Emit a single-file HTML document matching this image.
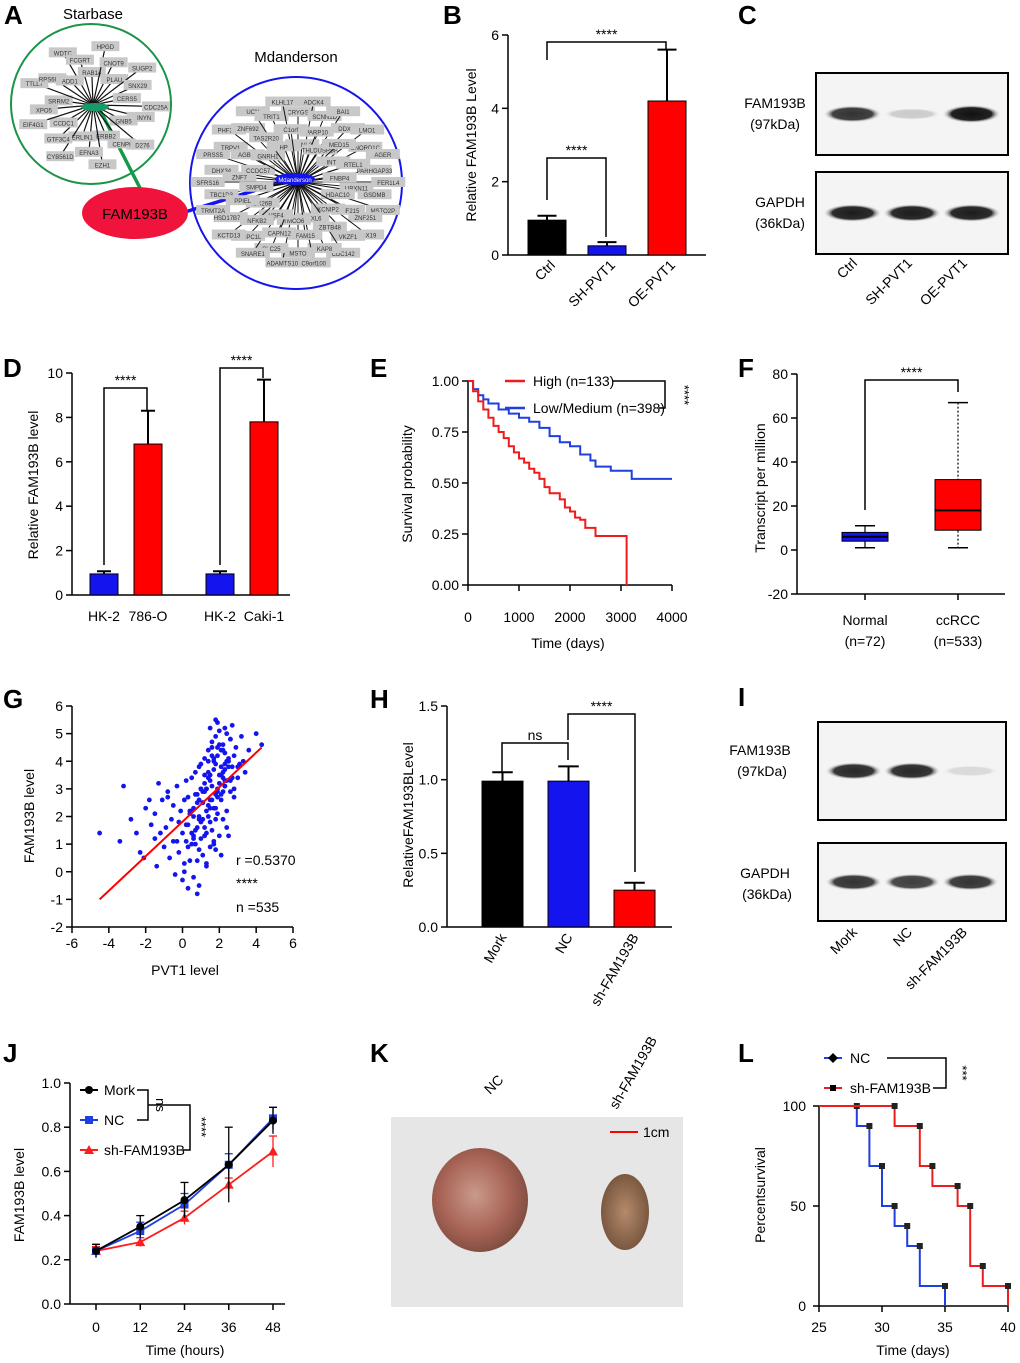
<!DOCTYPE html>
<html><head><meta charset="utf-8"><style>
body{margin:0;background:#fff}
svg{display:block;font-family:"Liberation Sans",Arial,sans-serif}
</style></head><body>
<svg id="fig" width="1020" height="1363" viewBox="0 0 1020 1363" xmlns="http://www.w3.org/2000/svg">
<defs>
<radialGradient id="t1" cx="45%" cy="45%" r="60%"><stop offset="0" stop-color="#c99a8c"/><stop offset="0.6" stop-color="#a86456"/><stop offset="1" stop-color="#7a4a3e"/></radialGradient>
<radialGradient id="t2" cx="50%" cy="50%" r="60%"><stop offset="0" stop-color="#b58a6c"/><stop offset="1" stop-color="#6e4e36"/></radialGradient>
<radialGradient id="band" cx="50%" cy="50%" r="50%"><stop offset="0" stop-color="#111"/><stop offset="0.7" stop-color="#222"/><stop offset="1" stop-color="#ddd" stop-opacity="0"/></radialGradient>
</defs>
<g id="root"></g>
</svg>
<script>
// ---------- data ----------
const bCats=["Ctrl","SH-PVT1","OE-PVT1"], bVals=[0.95,0.25,4.2], bErr=[0.12,0.1,1.4];
const dCats=["HK-2","786-O","HK-2","Caki-1"], dVals=[0.95,6.8,0.95,7.8], dErr=[0.12,1.5,0.12,1.9];
const eHighT=[0,100,200,300,400,500,600,700,800,900,1000,1100,1200,1300,1400,1500,1600,1700,1800,1900,2000,2100,2200,2300,2400,2500,2800,3100,3110];
const eHighS=[1,0.95,0.9,0.86,0.82,0.78,0.75,0.72,0.68,0.65,0.62,0.6,0.57,0.55,0.52,0.48,0.45,0.45,0.42,0.38,0.36,0.33,0.32,0.28,0.28,0.24,0.24,0.24,0];
const eLowT=[0,100,200,300,400,600,800,1000,1200,1400,1600,1800,2000,2200,2400,2500,2800,3200,3210,4000];
const eLowS=[1,0.96,0.93,0.91,0.89,0.86,0.84,0.82,0.8,0.77,0.73,0.7,0.68,0.64,0.61,0.58,0.56,0.56,0.52,0.52];
const fCats=["Normal","ccRCC"], fMin=[1,1], fQ1=[4,9], fMed=[6,18], fQ3=[8,32], fMax=[11,67];
const gX=[-4.5,-3.4,-3.2,-2.8,-2.5,-2.3,-2.1,-2,-1.8,-1.7,-1.5,-1.4,-1.3,-1.2,-1.1,-1,-0.9,-0.8,-0.7,-0.6,-0.5,-0.5,-0.4,-0.3,-0.2,-0.2,-0.1,0,0,0.1,0.1,0.2,0.2,0.3,0.3,0.4,0.4,0.5,0.5,0.6,0.6,0.7,0.7,0.8,0.8,0.9,0.9,1,1,1.1,1.1,1.2,1.2,1.3,1.3,1.4,1.4,1.5,1.5,1.6,1.6,1.7,1.7,1.8,1.8,1.9,1.9,2,2,2.1,2.1,2.2,2.2,2.3,2.3,2.4,2.5,2.6,2.7,2.8,2.9,3,3.2,3.4,3.6,4,4.3,-1.5,-0.8,0.3,0.9,1.2,1.6,2.3,2.8,-0.3,0.6,1.4,1.9,2.5,3.1,0.1,0.8,1.3,1.7,2.2,2.6,
0.5,0.7,0.9,1.1,1.3,1.5,1.7,1.9,2.1,2.3,0.6,0.8,1.0,1.2,1.4,1.6,1.8,2.0,2.2,2.4,0.4,0.7,1.0,1.3,1.6,1.9,2.2,2.5,0.9,1.2,1.5,1.8,2.1,2.4,2.7,1.0,1.4,1.8,2.2,2.6,1.1,1.5,1.9,2.3,1.6,2.0,2.4,2.8,0.2,0.5,0.8,1.1,1.4,1.7,2.0,2.3,2.6,0.3,0.6,0.9,1.2,1.5,1.8,2.1,2.4,1.3,1.7,2.1,2.5,1.9,2.3,2.7,3.0,3.3,1.5,1.8];
const gY=[1.4,1.1,3.1,1.9,1.4,0.7,0.5,2.3,2.6,1.7,1.2,0.2,3.2,1.4,2.6,0.9,1.6,2.9,0.5,1.9,1.1,2.4,-0.1,3.1,0.7,1.8,2.2,-0.3,1.4,0.3,2.6,1.1,3.3,-0.6,1.7,2.1,0.4,1.4,3.4,-0.2,2.3,1.0,3.6,0.4,2.8,-0.5,1.9,1.2,3.9,0.6,2.5,1.6,4.1,0.2,3.0,2.0,4.4,0.9,3.3,1.5,4.7,2.3,3.7,0.8,4.9,2.9,4.2,1.3,5.1,2.6,3.5,1.9,4.6,3.1,5.2,2.2,4.0,3.3,5.3,2.7,4.5,3.8,4.9,3.6,4.4,5.0,4.6,2.1,2.7,2.7,3.8,2.9,3.1,3.3,3.0,1.1,1.3,2.4,2.1,4.1,3.9,0.0,-0.8,0.3,1.0,2.9,4.8,
1.0,1.5,2.0,2.5,3.0,3.5,4.0,4.5,3.8,4.3,2.0,2.5,3.0,3.5,4.0,4.5,2.8,3.2,3.6,4.0,2.2,2.8,1.8,2.2,2.6,3.0,3.4,3.8,0.8,1.3,1.8,2.3,2.8,3.3,3.8,3.0,3.4,3.9,4.4,4.8,1.9,2.3,2.7,3.1,4.2,4.6,5.0,4.2,1.7,2.2,1.6,2.9,3.6,4.1,3.5,3.9,2.9,0.9,1.2,2.6,3.2,2.6,1.9,4.4,1.6,1.4,1.1,0.6,1.3,5.4,3.7,3.4,3.4,4.0,5.2,5.5];
const hCats=["Mork","NC","sh-FAM193B"], hVals=[0.99,0.99,0.25], hErr=[0.06,0.1,0.05];
const jX=[0,12,24,36,48], jMork=[0.24,0.35,0.47,0.63,0.83], jNC=[0.24,0.33,0.45,0.63,0.84], jSh=[0.24,0.28,0.39,0.54,0.69];
const jMorkE=[0.03,0.05,0.08,0.17,0.06], jNCE=[0.03,0.04,0.05,0.05,0.05], jShE=[0.02,0.02,0.03,0.03,0.07];
const lNCt=[25,28,29,30,31,32,33,35], lNCs=[100,90,70,50,40,30,10,0];
const lShT=[25,31,33,34,36,37,38,40], lShS=[100,90,70,60,50,20,10,0];
// ---------- helpers ----------
const NS="http://www.w3.org/2000/svg", root=document.getElementById('root');
function el(tag,a,parent,txt){const e=document.createElementNS(NS,tag);for(const k in a)e.setAttribute(k,a[k]);if(txt!==undefined)e.textContent=txt;(parent||root).appendChild(e);return e;}
function T(x,y,s,size,anchor,extra){const e=el('text',Object.assign({x:x,y:y,'font-size':size||14,'text-anchor':anchor||'middle',fill:'#000'},extra||{}),null,s);

return e;}
function L(x1,y1,x2,y2,c,w){const e=el('line',{x1,y1,x2,y2,stroke:c||'#000','stroke-width':w||1.5});return e;}
function lin(d0,d1,r0,r1){return v=>r0+(v-d0)*(r1-r0)/(d1-d0);}
function letter(s,x,y){const e=T(x,y,s,26,'start',{'font-weight':'bold'});
}
function yAxis(x,y,ticks,top,bot,fmt,size){L(x,top,x,bot);ticks.forEach(t=>{const yy=y(t);L(x-6,yy,x,yy);T(x-9,yy+5,fmt?fmt(t):String(t),size||14,'end');});}
function sig(x1,x2,y,drop1,drop2,label,size){el('path',{d:`M${x1},${drop1} V${y} H${x2} V${drop2}`,fill:'none',stroke:'#000','stroke-width':1.5});T((x1+x2)/2,y-3,label,size||14);}
function bars(cats,vals,err,x0,w,gap,y,colors,name){cats.forEach((c,i)=>{const x=x0+i*gap,top=y(vals[i]);
const et=y(vals[i]+err[i]);L(x+w/2,top,x+w/2,et,'#000',2);L(x+w/2-w/4,et,x+w/2+w/4,et,'#000',2);
const r=el('rect',{x:x,y:top,width:w,height:y(0)-top,fill:colors[i],stroke:'#000','stroke-width':1});

});}

// ---------- Panel A ----------
letter('A',4,24);
T(93,19,'Starbase',15);T(296,62,'Mdanderson',15);
el('circle',{cx:91,cy:104,r:80,fill:'none',stroke:'#1a9446','stroke-width':2});
el('circle',{cx:296,cy:183,r:106,fill:'none',stroke:'#1414ee','stroke-width':2});
L(100,110,140,188,'#129a4a',3.5);L(185,212,295,178,'#1414ee',3.5);
const sbNames=["WDTC","FCGRT","RAB14","HPGD","CNOT9","PLAU","SUGP2","SNX29","CERS5","CDC25A","KHNYN","GNB5","CD276","CENPI","ERBB2","EZH1","EFNA3","ERLIN1","CYB561D","GTF3C4","CCDC1","EIF4G1","XPO5","SRRM2","TTLL7","RPS6KA4","ADD1"];
sbNames.forEach((n,i)=>{const a=i/sbNames.length*Math.PI*2-Math.PI/2-0.5,rr=(i%3==0?60:i%3==1?47:33);const x=93+Math.cos(a)*rr*1.05,y=105+Math.sin(a)*rr;
L(93,105,x,y,'#111',1.2);el('rect',{x:x-14,y:y-5,width:28,height:10,fill:'#c8c8c8'});el('text',{x:x,y:y+3,'font-size':6,'text-anchor':'middle',fill:'#333'},null,n);});
el('ellipse',{cx:95,cy:107,rx:14,ry:4,fill:'#1a9a6a'});
const mdNames=["CRYGS","ADCK4","SCNN1D","BAI1","DDX12","LMO1","SNORD1C","AGER","PARHGAP33","FER1L4","GSDMB","MSTO2P","ZNF251","TBX19","VKZF1","CDC142","KAP8","C9orf100","MSTO","ADAMTS10","SLC25","SNARE1","PABPC1L","KCTD13","HSD17B7P2","TRMT2A","TBC1D3","SFRS16","DHX34","PRSS5","TRPV1","PHF21A","ZNF692","UCN","TRIT1","KLHL17","CCNL2","PARP10","THLDUSPSP","MED15","INTS","RTEL1","FNBP4","UBXN11","HDAC10","RNF215","KCNIP2","ZBTB48","FBXL6","FAM15","TMCO6","CAPN12","HSF4","NFKB2","DX26B","PPIEL","SMPD4","ZNF7","CCDC57","AGBL2","GNRH1","TAS2R20","HP","C1orf"];
mdNames.forEach((n,i)=>{let a,rr;if(i<36){a=i/36*Math.PI*2-Math.PI/2;rr=i%2?86:74;}else{a=(i-36)/(mdNames.length-36)*Math.PI*2-Math.PI/2+0.1;rr=i%2?56:40;}
const x=298+Math.cos(a)*rr*1.05,y=182+Math.sin(a)*rr*0.95;
L(298,182,x,y,'#111',1);el('rect',{x:x-17,y:y-5,width:34,height:10,fill:'#c8c8c8'});el('text',{x:x,y:y+3,'font-size':6,'text-anchor':'middle',fill:'#333'},null,n);});
el('ellipse',{cx:295,cy:179,rx:20,ry:6,fill:'#1414ee'});el('text',{x:295,y:182,'font-size':6,'text-anchor':'middle',fill:'#fff'},null,'Mdanderson');
const fam=el('ellipse',{cx:135,cy:213,rx:53,ry:26,fill:'#f0143c'});


T(135,219,'FAM193B',15);

// ---------- Panel B ----------
letter('B',443,24);
{const y=lin(0,6,255,35);yAxis(508,y,[0,2,4,6],35,255);L(508,255,706,255);
bars(bCats,bVals,bErr,528,38,60,y,['#000','#1414ee','#ff0000'],'b');
bCats.forEach((c,i)=>T(556+i*60,266,c,14,'end',{transform:`rotate(-45 ${556+i*60} 266)`}));
sig(547,606,158,200,237,'****');sig(547,666,42,60,50,'****');
T(476,145,'Relative FAM193B Level',14,'middle',{transform:'rotate(-90 476 145)'});}

// ---------- Panel C / I blots ----------
function blot(x,y,w,h,int,name){const g=el('g',{});
el('rect',{x:x,y:y,width:w,height:h,fill:'#f4f4f4',stroke:'#000','stroke-width':2},g);
int.forEach((v,i)=>{const cx=x+w*(0.19+i*0.31);el('ellipse',{cx:cx,cy:y+h/2,rx:w*0.15,ry:5+4*v,fill:'url(#band)',opacity:v},g);});}
letter('C',738,24);
blot(816,73,192,82,[0.85,0.18,1],'blot-fam193b-c');blot(816,172,192,82,[0.95,0.95,0.95],'blot-gapdh-c');
T(775,108,'FAM193B',14);T(775,129,'(97kDa)',14);T(780,207,'GAPDH',14);T(780,228,'(36kDa)',14);
["Ctrl","SH-PVT1","OE-PVT1"].forEach((c,i)=>{const x=858+i*55;T(x,264,c,14,'end',{transform:`rotate(-45 ${x} 264)`});});
letter('I',738,706);
blot(818,722,188,98,[0.9,0.9,0.12],'blot-fam193b-i');blot(818,843,188,78,[0.85,0.8,0.85],'blot-gapdh-i');
T(760,755,'FAM193B',14);T(762,776,'(97kDa)',14);T(765,878,'GAPDH',14);T(767,899,'(36kDa)',14);
["Mork","NC","sh-FAM193B"].forEach((c,i)=>{const x=858+i*55;T(x,933,c,14,'end',{transform:`rotate(-45 ${x} 933)`});});

// ---------- Panel D ----------
letter('D',3,377);
{const y=lin(0,10,595,373);yAxis(72,y,[0,2,4,6,8,10],373,595);L(72,595,290,595);
const xs=[90,134,206,250];dCats.forEach((c,i)=>{const w=28,top=y(dVals[i]),et=y(dVals[i]+dErr[i]);L(xs[i]+w/2,top,xs[i]+w/2,et,'#000',2);L(xs[i]+7,et,xs[i]+21,et,'#000',2);
const r=el('rect',{x:xs[i],y:top,width:w,height:595-top,fill:i%2?'#ff0000':'#1414ee',stroke:'#000'});T(xs[i]+w/2,621,c,14);});
sig(104,147,388,565,411,'****');sig(220,263,368,565,378,'****');
T(38,485,'Relative FAM193B level',14,'middle',{transform:'rotate(-90 38 485)'});}

// ---------- Panel E ----------
letter('E',370,377);
{const x=lin(0,4000,468,672),y=lin(0,1,585,381);
yAxis(468,y,[0,0.25,0.5,0.75,1],381,585,t=>t.toFixed(2));L(468,585,672,585);
[0,1000,2000,3000,4000].forEach(t=>{L(x(t),585,x(t),591);T(x(t),622,String(t),14);});
function step(ts,ss,c,n){let d=`M${x(ts[0])},${y(ss[0])}`;for(let i=1;i<ts.length;i++)d+=` H${x(ts[i])} V${y(ss[i])}`;const p=el('path',{d:d,fill:'none',stroke:c,'stroke-width':2});}
step(eLowT,eLowS,'#1f3fe0','survival-low');step(eHighT,eHighS,'#ee1c1c','survival-high');
L(505,381,525,381,'#ee1c1c',2.5);T(533,386,'High (n=133)',14,'start');L(505,408,525,408,'#1f3fe0',2.5);T(533,413,'Low/Medium (n=398)',14,'start');
el('path',{d:'M613,381 H665 V408 H659',fill:'none',stroke:'#000','stroke-width':1.5});T(680,395,'****',13,'middle',{transform:'rotate(90 680 395)'});
T(568,648,'Time (days)',14);T(412,484,'Survival probability',14,'middle',{transform:'rotate(-90 412 484)'});}

// ---------- Panel F ----------
letter('F',738,377);
{const y=lin(-20,80,594,374);yAxis(797,y,[-20,0,20,40,60,80],374,594);L(797,594,1005,594);
const cx=[865,958],cols=['#1414ee','#ff0000'];fCats.forEach((c,i)=>{L(cx[i],y(fMax[i]),cx[i],y(fMin[i]),'#000',1.2).setAttribute('stroke-dasharray',i?'2,2':'');
L(cx[i]-10,y(fMax[i]),cx[i]+10,y(fMax[i]));L(cx[i]-10,y(fMin[i]),cx[i]+10,y(fMin[i]));
const r=el('rect',{x:cx[i]-23,y:y(fQ3[i]),width:46,height:y(fQ1[i])-y(fQ3[i]),fill:cols[i],stroke:'#000'});
L(cx[i]-23,y(fMed[i]),cx[i]+23,y(fMed[i]),'#000',2);L(cx[i],594,cx[i],600);});
T(865,625,'Normal',14);T(865,646,'(n=72)',14);T(958,625,'ccRCC',14);T(958,646,'(n=533)',14);
sig(865,958,380,510,392,'****');T(765,488,'Transcript per million',14,'middle',{transform:'rotate(-90 765 488)'});}

// ---------- Panel G ----------
letter('G',3,708);
{const x=lin(-6,6,72,293),y=lin(-2,6,927,706);
yAxis(72,y,[-2,-1,0,1,2,3,4,5,6],706,927);L(72,927,293,927);
[-6,-4,-2,0,2,4,6].forEach(t=>{L(x(t),927,x(t),933);T(x(t),948,String(t),14);});
gX.forEach((v,i)=>{const c=el('circle',{cx:x(v),cy:y(gY[i]),r:2.4,fill:'#1414ee'});});
L(x(-4.5),y(-1),x(4.3),y(4.5),'#ff0000',2);
T(236,865,'r =0.5370',14,'start');T(236,888,'****',14,'start');T(236,912,'n =535',14,'start');
T(185,975,'PVT1 level',14);T(34,816,'FAM193B level',14,'middle',{transform:'rotate(-90 34 816)'});}

// ---------- Panel H ----------
letter('H',370,708);
{const y=lin(0,1.5,927,706);yAxis(447,y,[0,0.5,1,1.5],706,927,t=>t.toFixed(1));L(447,927,672,927);
bars(hCats,hVals,hErr,482,41,66,y,['#000','#1414ee','#ff0000'],'h');
hCats.forEach((c,i)=>{const x=507+i*66;T(x,937,c,14,'end',{transform:`rotate(-60 ${x} 937)`});});
sig(502,568,743,772,760,'ns');sig(568,635,714,740,872,'****');
T(413,815,'RelativeFAM193BLevel',14,'middle',{transform:'rotate(-90 413 815)'});}

// ---------- Panel J ----------
letter('J',3,1062);
{const x=lin(0,48,96,273),y=lin(0,1,1304,1083);
yAxis(70,y,[0,0.2,0.4,0.6,0.8,1],1083,1304,t=>t.toFixed(1));L(70,1304,285,1304);
jX.forEach(t=>{L(x(t),1304,x(t),1310);T(x(t),1332,String(t),14);});
function ser(v,e,c,mk,n){let d='';v.forEach((val,i)=>{d+=(i?'L':'M')+x(jX[i])+','+y(val);L(x(jX[i]),y(val-e[i]),x(jX[i]),y(val+e[i]),c,1.3);L(x(jX[i])-4,y(val+e[i]),x(jX[i])+4,y(val+e[i]),c,1.3);});
const p=el('path',{d:d,fill:'none',stroke:c,'stroke-width':1.8});
v.forEach((val,i)=>marker(x(jX[i]),y(val),c,mk));}
function marker(px,py,c,mk){if(mk=='c')el('circle',{cx:px,cy:py,r:4,fill:c});else if(mk=='s')el('rect',{x:px-4,y:py-4,width:8,height:8,fill:c});else el('path',{d:`M${px},${py-5}L${px+5},${py+4}L${px-5},${py+4}Z`,fill:c});}
ser(jSh,jShE,'#ff1c1c','t','line-sh');ser(jNC,jNCE,'#1f3fe0','s','line-nc');ser(jMork,jMorkE,'#000','c','line-mork');
[['Mork','#000','c',1090],['NC','#1f3fe0','s',1120],['sh-FAM193B','#ff1c1c','t',1150]].forEach(l=>{L(80,l[3],98,l[3],l[1],2);marker(89,l[3],l[1],l[2]);T(104,l[3]+5,l[0],14,'start');});
el('path',{d:'M137,1090 H148 V1120 H137',fill:'none',stroke:'#000','stroke-width':1.5});T(156,1105,'ns',13,'middle',{transform:'rotate(90 156 1105)'});
el('path',{d:'M148,1105 H190 V1150 H183',fill:'none',stroke:'#000','stroke-width':1.5});T(197,1127,'****',13,'middle',{transform:'rotate(90 197 1127)'});
T(185,1355,'Time (hours)',14);T(24,1195,'FAM193B level',14,'middle',{transform:'rotate(-90 24 1195)'});}

// ---------- Panel K ----------
letter('K',370,1062);
{const g=el('g',{});
el('rect',{x:391,y:1117,width:292,height:190,fill:'#e6e6e6'},g);
el('ellipse',{cx:480,cy:1200,rx:48,ry:52,fill:'url(#t1)'},g);
el('ellipse',{cx:625,cy:1212,rx:24,ry:38,fill:'url(#t2)'},g);
L(610,1132,638,1132,'#ff0000',2);T(643,1137,'1cm',14,'start');
T(490,1095,'NC',14,'start',{transform:'rotate(-45 490 1095)'});T(617,1110,'sh-FAM193B',14,'start',{transform:'rotate(-60 617 1110)'});}

// ---------- Panel L ----------
letter('L',738,1062);
{const x=lin(25,40,819,1008),y=lin(0,100,1306,1106);
L(819,1106,819,1306);[0,50,100].forEach(t=>{L(813,y(t),819,y(t));T(806,y(t)+5,String(t),14,'end');});
L(819,1306,1008,1306);[25,30,35,40].forEach(t=>{L(x(t),1306,x(t),1312);T(x(t),1332,String(t),14);});
function st(ts,ss,c,n,mk){let d=`M${x(ts[0])},${y(ss[0])}`;for(let i=1;i<ts.length;i++)d+=` H${x(ts[i])} V${y(ss[i])}`;const p=el('path',{d:d,fill:'none',stroke:c,'stroke-width':2});
for(let i=1;i<ts.length;i++)el('rect',{x:x(ts[i])-3,y:y(ss[i-1])-3,width:6,height:6,fill:'#222'});}
st(lNCt,lNCs,'#1f3fe0','survival-nc');st(lShT,lShS,'#ee1c1c','survival-sh');
L(824,1058,842,1058,'#1f3fe0',2);el('path',{d:'M833,1053 L838,1058 L833,1063 L828,1058Z',fill:'#000'});T(850,1063,'NC',14,'start');
L(824,1088,842,1088,'#ee1c1c',2);el('rect',{x:830,y:1085,width:6,height:6,fill:'#000'});T(850,1093,'sh-FAM193B',14,'start');
el('path',{d:'M887,1058 H946 V1088 H933',fill:'none',stroke:'#000','stroke-width':1.5});T(958,1073,'***',13,'middle',{transform:'rotate(90 958 1073)'});
T(913,1355,'Time (days)',14);T(765,1195,'Percentsurvival',14,'middle',{transform:'rotate(-90 765 1195)'});}
</script>
</body></html>
